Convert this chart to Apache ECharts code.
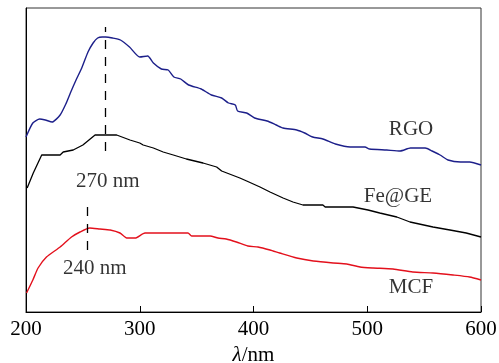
<!DOCTYPE html>
<html>
<head>
<meta charset="utf-8">
<script src="https://cdn.jsdelivr.net/npm/echarts@6/dist/echarts.min.js"></script>
<style>
  html, body { margin: 0; padding: 0; background: #fff; }
  #chart { width: 499px; height: 363px; }
</style>
</head>
<body>
<div id="chart"></div>
<script>
// wavelength (nm) and absorbance (arb. units)
const rgoX = [200, 206, 212, 217, 223, 230, 235, 239, 244, 249, 254.5, 259, 263, 267, 270, 276, 283, 291, 300, 307, 312, 319, 325, 330, 336, 343, 354, 363, 372, 378, 384, 386, 394, 401, 412, 420, 426, 438, 445, 452, 461, 472, 485, 498, 502, 517, 529, 538, 551, 557, 564, 571, 582, 590, 600];
const rgoY = [175, 189, 193, 192, 190, 197, 208, 219, 232, 244, 260, 269, 274, 275, 275, 274, 272, 265, 255, 256, 249, 243, 242, 235, 233, 227, 223, 217, 214, 209, 207, 201, 199, 194, 191, 187, 184, 182, 179, 175, 173, 168, 165, 165, 163, 162, 161, 164, 164, 161, 157, 152, 150, 150, 147];

const feX = [201, 206.4, 213.8, 230, 232.7, 241.5, 250, 260.7, 279.7, 291.4, 300, 303, 312, 320.6, 329.5, 341, 355.6, 367.6, 372, 388, 394, 405.7, 414.5, 426, 434.7, 443.5, 461, 463, 487.5, 500.7, 511, 526, 537.6, 557.8, 572.7, 587, 600];
const feY = [124, 139, 157, 157, 160, 162, 167, 177, 177, 172, 169, 167, 164, 160, 157, 153, 149, 145, 141, 134, 131, 125, 120, 114, 110, 107, 107, 105, 105, 102, 99, 95, 90, 85, 82, 79, 75];

const mcfX = [200.5, 206, 210.6, 218, 230, 240, 247.5, 256, 265, 274, 282.6, 288.5, 296, 304.6, 342.4, 345.6, 361.8, 368.8, 376, 385, 395, 404, 414.5, 423, 438, 452.6, 470, 482, 493.6, 505, 522.6, 540, 557.8, 575.4, 590, 600];
const mcfY = [19, 32, 44, 55, 65, 75, 80, 84, 83, 82, 79, 74, 74, 79, 79, 76, 76, 74, 73, 70, 66, 65, 62, 59, 54, 51, 49, 48, 45, 44, 43, 40, 39, 37, 35, 32];

const xTicks = [200, 300, 400, 500, 600];

// peak markers: [wavelength, yFrom, yTo]
const rgoPeak = [269.5, 161, 285];
const mcfPeak = [254, 62, 105];

// annotation texts and anchors
const noteText = ['270 nm', '240 nm', 'RGO', 'Fe@GE', 'MCF'];
const noteX = [272, 260.5, 538.5, 527, 538.5];
const noteY = [131, 44, 183, 116, 25];

const zip = (xs, ys) => xs.map((x, i) => [x, ys[i]]);

const chart = echarts.init(document.getElementById('chart'));

const serif = '"Liberation Serif", "DejaVu Serif", serif';

const dashed = (peak) => ({
  silent: true,
  symbol: 'none',
  label: { show: false },
  lineStyle: { color: '#000', type: [9, 8], width: 1.3 },
  data: [[{ coord: [peak[0], peak[1]] }, { coord: [peak[0], peak[2]] }]]
});

const option = {
  animation: false,
  backgroundColor: '#fff',
  grid: {
    left: 26,
    right: 18,
    top: 8,
    bottom: 51,
    containLabel: false,
    outerBoundsMode: 'none',
    show: true,
    borderColor: '#333',
    borderWidth: 1
  },
  xAxis: {
    type: 'value',
    min: 200,
    max: 600,
    interval: 100,
    axisLine: { show: true, lineStyle: { color: '#000', width: 1 } },
    axisTick: { show: true, inside: true, length: 6, lineStyle: { color: '#000' } },
    axisLabel: {
      color: '#000',
      fontFamily: serif,
      fontSize: 21,
      margin: 7,
      customValues: xTicks
    },
    splitLine: { show: false },
    name: '{i|λ}/nm',
    nameLocation: 'middle',
    nameGap: 29,
    nameTextStyle: {
      color: '#000',
      fontFamily: serif,
      fontSize: 21,
      rich: {
        i: { fontStyle: 'italic', fontFamily: serif, fontSize: 21, color: '#000' }
      }
    }
  },
  yAxis: {
    type: 'value',
    min: 0,
    max: 304,
    axisLine: { show: true, lineStyle: { color: '#000' } },
    axisTick: { show: false },
    axisLabel: { show: false },
    splitLine: { show: false }
  },
  series: [
    {
      name: 'RGO',
      type: 'line',
      data: zip(rgoX, rgoY),
      showSymbol: false,
      smooth: 0.2,
      lineStyle: { color: '#1c1f8a', width: 1.4 },
      markLine: dashed(rgoPeak)
    },
    {
      name: 'Fe@GE',
      type: 'line',
      data: zip(feX, feY),
      showSymbol: false,
      lineStyle: { color: '#000', width: 1.3 }
    },
    {
      name: 'MCF',
      type: 'line',
      data: zip(mcfX, mcfY),
      showSymbol: false,
      smooth: 0.2,
      lineStyle: { color: '#e3101c', width: 1.4 },
      markLine: dashed(mcfPeak)
    },
    {
      name: 'notes',
      type: 'scatter',
      symbolSize: 0,
      silent: true,
      data: noteText.map((t, i) => ({ name: t, value: [noteX[i], noteY[i]] })),
      label: {
        show: true,
        position: 'inside',
        formatter: (p) => p.name,
        color: '#000',
        fontFamily: serif,
        fontSize: 21
      }
    }
  ]
};

chart.setOption(option);
</script>
</body>
</html>
